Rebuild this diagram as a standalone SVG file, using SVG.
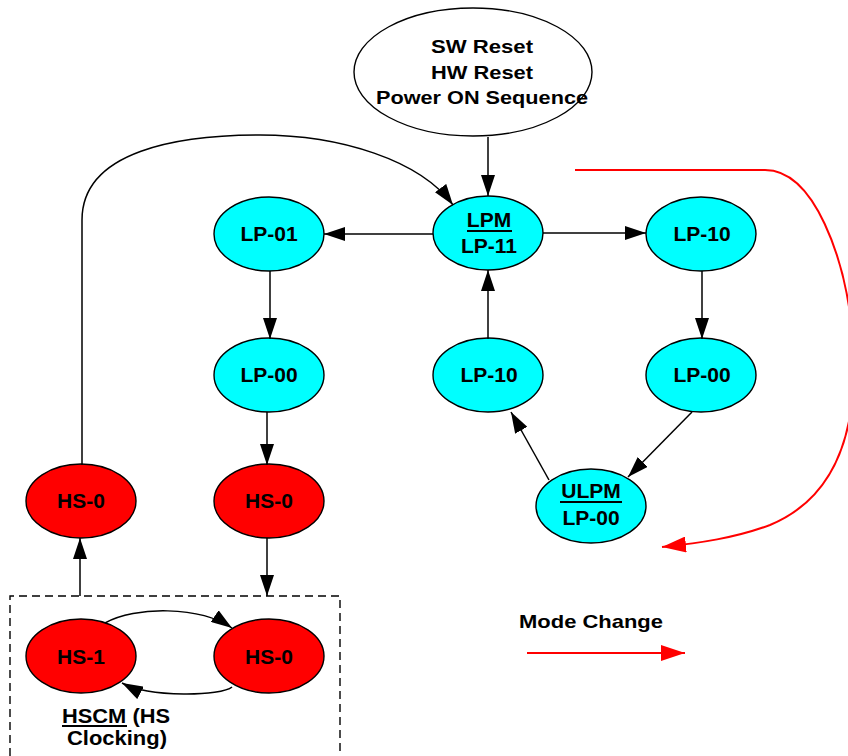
<svg xmlns="http://www.w3.org/2000/svg" width="848" height="756" viewBox="0 0 848 756">
<style>
.t{font-family:"Liberation Sans",Arial,sans-serif;font-weight:bold;font-size:21px;fill:#000;text-anchor:middle}
.cy{fill:#00ffff;stroke:#000;stroke-width:1.4}
.rd{fill:#ff0000;stroke:#000;stroke-width:1.4}
.e{fill:none;stroke:#000;stroke-width:1.5}
.ul{stroke:#000;stroke-width:2}
</style>
<defs>
<marker id="ah" markerUnits="userSpaceOnUse" markerWidth="21" markerHeight="14" refX="21" refY="7" orient="auto" viewBox="0 0 21 14"><path d="M0,0 L21,7 L0,14 z" fill="#000"/></marker>
<marker id="rh" markerUnits="userSpaceOnUse" markerWidth="24" markerHeight="16" refX="24" refY="8" orient="auto" viewBox="0 0 24 16"><path d="M0,0 L24,8 L0,16 z" fill="#ff0000"/></marker>
</defs>
<rect width="848" height="756" fill="#fff"/>

<g id="hscm-box">
<path d="M10,756 V596 H340 V756" fill="none" stroke="#000" stroke-width="1.4" stroke-dasharray="8,5"/>
<text class="t" x="116" y="723" textLength="108" lengthAdjust="spacingAndGlyphs" style="font-size:20px">HSCM (HS</text>
<line class="ul" x1="62" y1="726" x2="127" y2="726"/>
<text class="t" x="117" y="745" textLength="100" lengthAdjust="spacingAndGlyphs" style="font-size:20px">Clocking)</text>
</g>

<g id="reset">
<ellipse cx="473" cy="72" rx="119" ry="64" fill="#fff" stroke="#000" stroke-width="1.4"/>
<text class="t" x="482" y="53" textLength="102" lengthAdjust="spacingAndGlyphs" style="font-size:19px">SW Reset</text>
<text class="t" x="482" y="79" textLength="102" lengthAdjust="spacingAndGlyphs" style="font-size:19px">HW Reset</text>
<text class="t" x="482" y="104" textLength="212" lengthAdjust="spacingAndGlyphs" style="font-size:19px">Power ON Sequence</text>
</g>

<g id="lpm">
<ellipse class="cy" cx="488" cy="233" rx="55" ry="37"/>
<text class="t" x="489" y="227">LPM</text>
<line class="ul" x1="467" y1="231" x2="512" y2="231"/>
<text class="t" x="489" y="253">LP-11</text>
</g>

<g id="lp01">
<ellipse class="cy" cx="269" cy="234" rx="55" ry="37"/>
<text class="t" x="269" y="241">LP-01</text>
</g>

<g id="lp10r">
<ellipse class="cy" cx="701" cy="234" rx="55" ry="37"/>
<text class="t" x="702" y="241">LP-10</text>
</g>

<g id="lp00l">
<ellipse class="cy" cx="269" cy="375" rx="55" ry="37"/>
<text class="t" x="269" y="382">LP-00</text>
</g>

<g id="lp10m">
<ellipse class="cy" cx="488" cy="375" rx="55" ry="37"/>
<text class="t" x="489" y="382">LP-10</text>
</g>

<g id="lp00r">
<ellipse class="cy" cx="701" cy="375" rx="55" ry="37"/>
<text class="t" x="702" y="382">LP-00</text>
</g>

<g id="ulpm">
<ellipse class="cy" cx="591" cy="506" rx="55" ry="37"/>
<text class="t" x="591" y="498">ULPM</text>
<line class="ul" x1="560" y1="502" x2="622" y2="502"/>
<text class="t" x="591" y="525">LP-00</text>
</g>

<g id="hs0l">
<ellipse class="rd" cx="81" cy="501" rx="55" ry="37"/>
<text class="t" x="81" y="508">HS-0</text>
</g>

<g id="hs0m">
<ellipse class="rd" cx="269" cy="501" rx="55" ry="37"/>
<text class="t" x="269" y="508">HS-0</text>
</g>

<g id="hs1">
<ellipse class="rd" cx="81" cy="656" rx="55" ry="37"/>
<text class="t" x="81" y="664">HS-1</text>
</g>

<g id="hs0b">
<ellipse class="rd" cx="269" cy="656" rx="55" ry="37"/>
<text class="t" x="269" y="664">HS-0</text>
</g>

<g id="legend">
<text class="t" x="591" y="628" textLength="144" lengthAdjust="spacingAndGlyphs" style="font-size:19px">Mode Change</text>
<line x1="527" y1="653" x2="685" y2="653" stroke="#ff0000" stroke-width="2" marker-end="url(#rh)"/>
</g>

<g id="connectors">
<path class="e" d="M488,137 V196" marker-end="url(#ah)"/>
<path class="e" d="M433,234 H324" marker-end="url(#ah)"/>
<path class="e" d="M543,233 H646" marker-end="url(#ah)"/>
<path class="e" d="M702,271 V339" marker-end="url(#ah)"/>
<path class="e" d="M692,412 L628,477" marker-end="url(#ah)"/>
<path class="e" d="M549,480 L511,412" marker-end="url(#ah)"/>
<path class="e" d="M488,339 V270" marker-end="url(#ah)"/>
<path class="e" d="M270,271 V339" marker-end="url(#ah)"/>
<path class="e" d="M267,412 V465" marker-end="url(#ah)"/>
<path class="e" d="M267,538 V596" marker-end="url(#ah)"/>
<path class="e" d="M80,596 V538" marker-end="url(#ah)"/>
<path class="e" d="M82,465 V220 C82,150 180,135 260,135 C340,135 420,160 453,205" marker-end="url(#ah)"/>
<path class="e" d="M105,623 C135,606 200,606 232,628" marker-end="url(#ah)"/>
<path class="e" d="M232,687 C222,696 150,698 122,683" marker-end="url(#ah)"/>
<path d="M575,170 H765 C815,170 845,260 852,330 C862,440 830,500 770,525 C735,538 700,543 662,547" fill="none" stroke="#ff0000" stroke-width="2" marker-end="url(#rh)"/>
</g>
</svg>
